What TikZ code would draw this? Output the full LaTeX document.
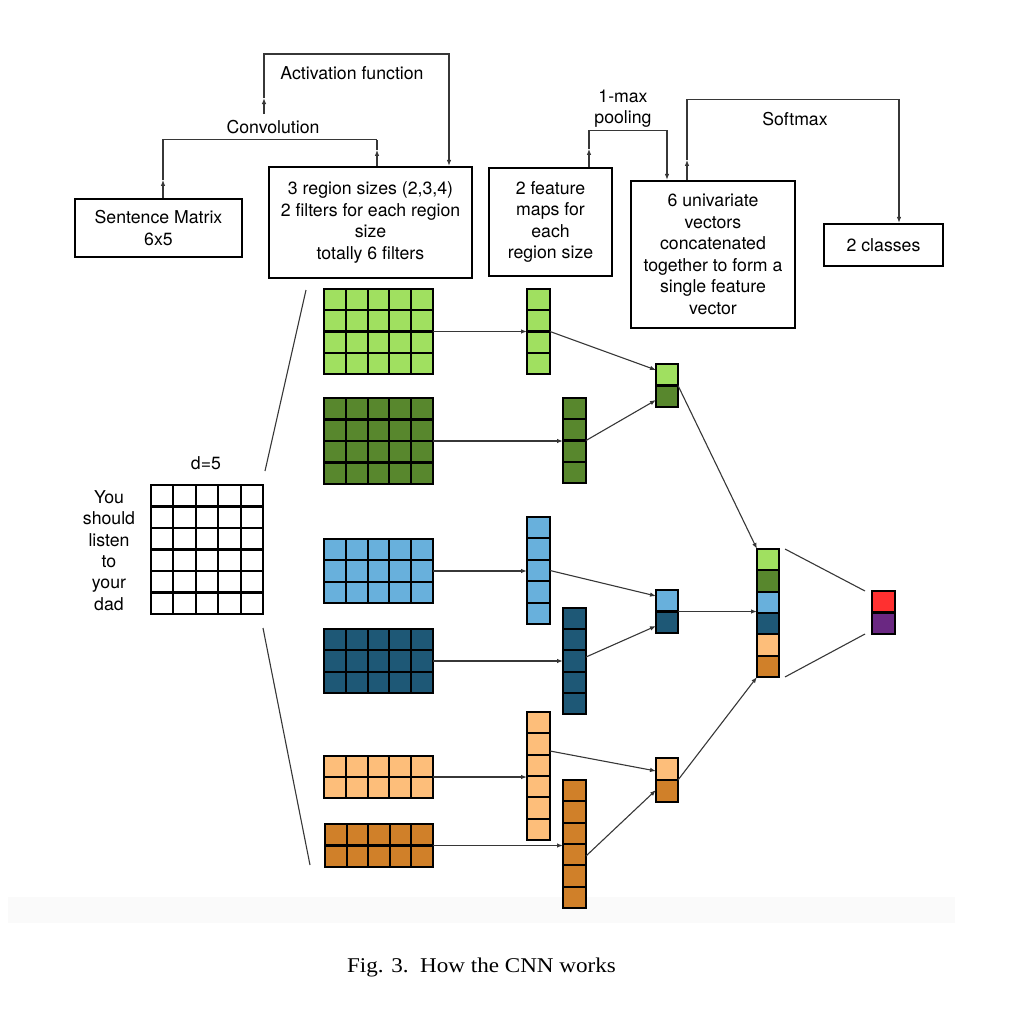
\documentclass[tikz,border=0pt]{standalone}
\usepackage{fontspec}
\setmainfont{TeX Gyre Heros}
\newfontfamily\capfont{Liberation Serif}
\usetikzlibrary{arrows.meta,calc}

\definecolor{lgreen}{RGB}{160,224,96}
\definecolor{dgreen}{RGB}{88,135,45}
\definecolor{lblue}{RGB}{104,176,220}
\definecolor{dblue}{RGB}{30,88,118}
\definecolor{lorange}{RGB}{253,190,122}
\definecolor{dorange}{RGB}{208,128,41}
\definecolor{outred}{RGB}{255,48,48}
\definecolor{outpurple}{RGB}{106,40,130}
\definecolor{connc}{RGB}{55,55,55}

\tikzset{
 cellbox/.style={draw=black,line width=2.1pt,inner sep=0pt,outer sep=0pt},
 cellline/.style={draw=black,line width=2.1pt},
 txtbox/.style={draw=black,line width=2.2pt,inner sep=0pt,align=center,font=\fontsize{17.7}{21.5}\selectfont},
 lbl/.style={align=center,font=\fontsize{17.7}{21.4}\selectfont,inner sep=0pt},
 conn/.style={draw=connc,line width=1.1pt,-{Latex[length=6pt,width=4.5pt]}},
 plain/.style={draw=connc,line width=1.1pt},
}

% name, x, y, cols, rows, cell w, cell h, colour
\newcommand\cnngrid[8]{%
 \node[cellbox,fill=#8,anchor=north west,minimum width=#4*#6pt,minimum height=#5*#7pt] (#1) at (#2,#3) {};
 \pgfmathtruncatemacro\gridcc{#4-1}\pgfmathtruncatemacro\gridrr{#5-1}%
 \ifnum\gridcc>0 \foreach \i in {1,...,\gridcc} {\draw[cellline] (#2+\i*#6,#3) -- ++(0,#5*#7);}\fi
 \ifnum\gridrr>0 \foreach \j in {1,...,\gridrr} {\draw[cellline] (#2,#3+\j*#7) -- ++(#4*#6,0);}\fi
}
% name, x, y, w, h, n, colours
\newcommand\cnnstack[7]{%
 \foreach \cl [count=\k from 0] in {#7} {\fill[\cl] (#2,#3+\k*#5) rectangle ++(#4,#5);}
 \node[cellbox,anchor=north west,minimum width=#4pt,minimum height=#6*#5pt] (#1) at (#2,#3) {};
 \pgfmathtruncatemacro\gridrr{#6-1}%
 \foreach \j in {1,...,\gridrr} {\draw[cellline] (#2,#3+\j*#5) -- ++(#4,0);}
}

\begin{document}
\begin{tikzpicture}[x=1pt,y=-1pt]
\useasboundingbox (0,0) rectangle (1010,1010);
\fill[black!2] (8,897) rectangle (955,923);

% text boxes
\node[txtbox,minimum width=167pt,minimum height=58pt] (sbox) at (158.5,228) {Sentence Matrix\\6x5};
\node[txtbox,minimum width=203pt,minimum height=111pt] (fbox) at (370.5,222.5) {3 region sizes (2,3,4)\\2 filters for each region\\size\\totally 6 filters};
\node[txtbox,minimum width=123pt,minimum height=108pt] (mbox) at (550.5,222) {2 feature\\maps for\\each\\region size};
\node[txtbox,minimum width=164pt,minimum height=147pt] (ubox) at (713,254.5) {6 univariate\\vectors\\concatenated\\together to form a\\single feature\\vector};
\node[txtbox,minimum width=119pt,minimum height=42pt] (cbox) at (883.5,245) {2 classes};

% labels
\node[lbl] (lact) at (352,73) {Activation function};
\node[lbl] (lconv) at (273,127) {Convolution};
\node[lbl] (lpool) at (623,108.5) {1-max\\pooling};
\node[lbl] (lsoft) at (795,119) {Softmax};
\node[lbl] (ld) at (206,463) {d=5};
\node[lbl] (words) at (109,550.5) {You\\should\\listen\\to\\your\\dad};

% top connectors (with arrowheads part-way along the rising segments)
% convolution
\coordinate (cv1) at ([xshift=4.5pt]sbox.north);
\coordinate (cv2) at ([xshift=6.5pt]fbox.north);
\draw[conn] (cv1) -- ++(0,-18) coordinate (cv1a);
\draw[plain] (cv1a) |- ([yshift=26pt]cv2) coordinate (cv2a);
\draw[conn] (cv2) -- ++(0,-16) coordinate (cv2b);
\draw[plain] (cv2b) -- (cv2a);
% activation
\coordinate (actstart) at (264,114);
\draw[conn] (actstart) -- ++(0,-16) coordinate (act1);
\draw[conn] (act1) -- ++(0,-44) -| ([xshift=78.5pt]fbox.north);
% pooling
\draw[conn] ([xshift=38.5pt]mbox.north) -- ++(0,-18) coordinate (pl1);
\draw[conn] (pl1) -- ++(0,-18) -| ([xshift=-46pt]ubox.north);
% softmax
\draw[conn] ([xshift=-26pt]ubox.north) -- ++(0,-20) coordinate (sm1);
\draw[conn] (sm1) -- ++(0,-60) -| ([xshift=15.5pt]cbox.north);

% sentence matrix
\cnngrid{sm}{151}{485}{5}{6}{22.4}{21.5}{white}

% filters
\cnngrid{g1}{324}{289}{5}{4}{21.8}{21.25}{lgreen}
\cnngrid{g2}{324}{398}{5}{4}{21.8}{21.5}{dgreen}
\cnngrid{g3}{324}{539}{5}{3}{21.8}{21.33}{lblue}
\cnngrid{g4}{324}{629}{5}{3}{21.8}{21.33}{dblue}
\cnngrid{g5}{324}{756}{5}{2}{21.8}{21}{lorange}
\cnngrid{g6}{325}{824}{5}{2}{21.6}{21.5}{dorange}

% feature maps
\cnngrid{v1}{527}{289}{1}{4}{23}{21.25}{lgreen}
\cnngrid{v2}{563}{398}{1}{4}{23}{21.25}{dgreen}
\cnngrid{v3}{527}{517}{1}{5}{23}{21.4}{lblue}
\cnngrid{v4}{563}{608}{1}{5}{23}{21.2}{dblue}
\cnngrid{v5}{527}{712}{1}{6}{23}{21.33}{lorange}
\cnngrid{v6}{563}{780}{1}{6}{23}{21.33}{dorange}

% pooled, concatenated, output
\cnnstack{p1}{656}{364}{22}{21.5}{2}{lgreen,dgreen}
\cnnstack{p2}{656}{590}{22}{21.5}{2}{lblue,dblue}
\cnnstack{p3}{656}{758}{22}{22}{2}{lorange,dorange}
\cnnstack{cat}{757}{549}{22}{21.33}{6}{lgreen,dgreen,lblue,dblue,lorange,dorange}
\cnnstack{out}{872}{591}{23}{21.5}{2}{outred,outpurple}

% matrix to filters
\draw[plain] ([xshift=2pt,yshift=14pt]sm.north east) -- ([xshift=-18pt,yshift=-1pt]g1.north west);
\draw[plain] ([yshift=-14pt]sm.south east) -- ([xshift=-15pt,yshift=2pt]g6.south west);

% filters to feature maps
\draw[conn] (g1.east) -- (g1.east -| v1.west);
\draw[conn] (g2.east) -- (g2.east -| v2.west);
\draw[conn] (g3.east) -- (g3.east -| v3.west);
\draw[conn] (g4.east) -- (g4.east -| v4.west);
\draw[conn] (g5.east) -- (g5.east -| v5.west);
\draw[conn] (g6.east) -- (g6.east -| v6.west);

% feature maps to pooled
\draw[conn] (v1.east) -- ([yshift=-6pt]p1.north west);
\draw[conn] (v2.east) -- ([yshift=7pt]p1.south west);
\draw[conn] (v3.east) -- ([yshift=-6pt]p2.north west);
\draw[conn] ([yshift=4pt]v4.east) -- ([yshift=7pt]p2.south west);
\draw[conn] ([yshift=25pt]v5.east) -- ([yshift=-13pt]p3.north west);
\draw[conn] ([yshift=-12pt]v6.east) -- ([yshift=12pt]p3.south west);

% pooled to concatenated
\draw[conn] (p1.east) -- (cat.north west);
\draw[conn] (p2.east) -- (p2.east -| cat.west);
\draw[conn] (p3.east) -- (cat.south west);

% concatenated to output
\draw[plain] ([xshift=6pt]cat.north east) -- ([xshift=-7pt]out.north west);
\draw[plain] ([xshift=6pt]cat.south east) -- ([xshift=-7pt]out.south west);

% caption
\node[font=\capfont\fontsize{21}{24}\selectfont,inner sep=0pt] (cap) at (481.5,967) {\scalebox{1.1}[1]{Fig. 3.\ \ How the CNN works}};
\end{tikzpicture}
\end{document}
